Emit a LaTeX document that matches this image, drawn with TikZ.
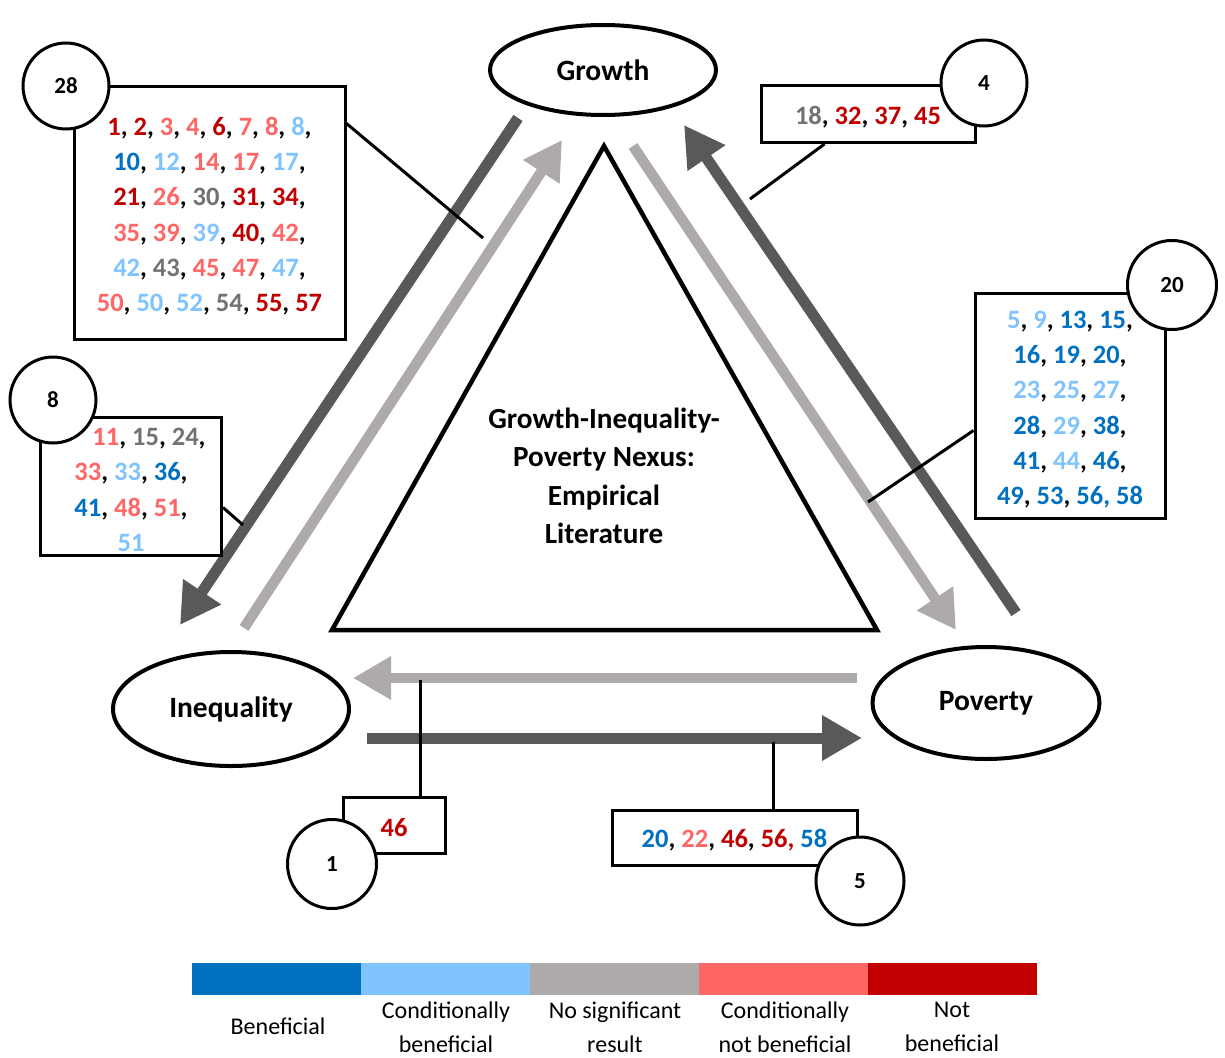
\documentclass[tikz,border=0pt]{standalone}
\usepackage{fontspec}
\setmainfont{Carlito}
\usetikzlibrary{arrows.meta,shapes.geometric}
\definecolor{cDB}{HTML}{0070C0}
\definecolor{cLB}{HTML}{7FC4FF}
\definecolor{cGR}{HTML}{767171}
\definecolor{cLR}{HTML}{FF6666}
\definecolor{cDR}{HTML}{C00000}
\definecolor{legGR}{HTML}{AEAAAA}
\definecolor{arrD}{HTML}{595959}
\definecolor{arrL}{HTML}{AEAAAA}
\newcommand{\nDB}[1]{\textcolor{cDB}{#1}}
\newcommand{\nLB}[1]{\textcolor{cLB}{#1}}
\newcommand{\nGR}[1]{\textcolor{cGR}{#1}}
\newcommand{\nLR}[1]{\textcolor{cLR}{#1}}
\newcommand{\nDR}[1]{\textcolor{cDR}{#1}}
\begin{document}
\begin{tikzpicture}[x=1pt,y=-1pt,
  oval/.style={ellipse, draw, line width=4pt, fill=white, inner sep=0pt,
    font=\fontsize{29.5}{34}\selectfont\bfseries},
  numbox/.style={draw, line width=3pt, fill=white, inner sep=0pt},
  numtext/.style={inner sep=0pt, align=center,
    font=\fontsize{26.5}{35.3}\selectfont\bfseries},
  badge/.style={circle, draw, line width=3pt, fill=white, inner sep=0pt,
    minimum size=86pt, font=\fontsize{23}{28}\selectfont\bfseries},
  darkarrow/.style={draw=arrD, line width=11pt, -{Triangle[length=40pt,width=43pt]}},
  lightarrow/.style={draw=arrL, line width=10.5pt, -{Triangle[length=38pt,width=41pt]}},
  leader/.style={line width=3pt},
  legtext/.style={font=\fontsize{24}{34}\selectfont, align=center}
]
\useasboundingbox (0,0) rectangle (1225,1057);

% main ovals
\node[oval, minimum width=226pt, minimum height=90pt] (growth) at (603,70) {Growth};
\node[oval, minimum width=236pt, minimum height=114pt] (ineq) at (231,709) {Inequality};
\node[oval, minimum width=227pt, minimum height=112pt] (pov) at (986,703) {Poverty};

% triangle
\coordinate (tA) at (604,146);
\coordinate (tB) at (332,630);
\coordinate (tC) at (877,630);
\draw[line width=4.5pt, line join=miter] (tA) -- (tB) -- (tC) -- cycle;
\node[align=center, font=\fontsize{29.2}{38.5}\selectfont\bfseries] (nexus) at (604,476)
  {Growth-Inequality-\\Poverty Nexus:\\Empirical\\Literature};

% arrow end points
\coordinate (a1s) at (518,118); \coordinate (a1e) at (180,625);
\coordinate (a2s) at (244,628); \coordinate (a2e) at (562,140);
\coordinate (a3s) at (633,146); \coordinate (a3e) at (956,630);
\coordinate (a4s) at (1016,613); \coordinate (a4e) at (684,125);
\coordinate (a5s) at (857,678); \coordinate (a5e) at (353,678);
\coordinate (a6s) at (367,738); \coordinate (a6e) at (862,738);

\draw[darkarrow] (a1s) -- (a1e);
\draw[lightarrow] (a2s) -- (a2e);
\draw[lightarrow] (a3s) -- (a3e);
\draw[darkarrow] (a4s) -- (a4e);
\draw[lightarrow] (a5s) -- (a5e);
\draw[darkarrow] (a6s) -- (a6e);

% boxes
\node[numbox, minimum width=271pt, minimum height=253pt] (b28) at (209.5,212.5) {};
\node[numtext] (t28) at ([yshift=-3.5pt]b28.center)
 {\nDR{1}, \nDR{2}, \nLR{3}, \nLR{4}, \nDR{6}, \nLR{7}, \nLR{8}, \nLB{8},\\
  \nDB{10}, \nLB{12}, \nLR{14}, \nLR{17}, \nLB{17},\\
  \nDR{21}, \nLR{26}, \nGR{30}, \nDR{31}, \nDR{34},\\
  \nLR{35}, \nLR{39}, \nLB{39}, \nDR{40}, \nLR{42},\\
  \nLB{42}, \nGR{43}, \nLR{45}, \nLR{47}, \nLB{47},\\
  \nLR{50}, \nLB{50}, \nLB{52}, \nGR{54}, \nDR{55}, \nDR{57}};
\node[numbox, minimum width=181pt, minimum height=138pt] (b8) at (131,486) {};
\node[numtext] (t8) at ([yshift=-4pt]b8.center)
 {\hspace*{36pt}\nLR{11}, \nGR{15}, \nGR{24},\\
  \nLR{33}, \nLB{33}, \nDB{36},\\
  \nDB{41}, \nLR{48}, \nLR{51},\\
  \nLB{51}};
\node[numbox, minimum width=214pt, minimum height=57pt] (b4) at (868,114) {};
\node[numtext] (t4) at ([yshift=-3.5pt]b4.center)
 {\nGR{18}, \nDR{32}, \nDR{37}, \nDR{45}};
\node[numbox, minimum width=190pt, minimum height=225pt] (b20) at (1070,405.5) {};
\node[numtext] (t20) at ([yshift=-4pt]b20.center)
 {\nLB{5}, \nLB{9}, \nDB{13}, \nDB{15},\\
  \nDB{16}, \nDB{19}, \nDB{20},\\
  \nLB{23}, \nLB{25}, \nLB{27},\\
  \nDB{28}, \nLB{29}, \nDB{38},\\
  \nDB{41}, \nLB{44}, \nDB{46},\\
  \nDB{49}, \nDB{53}, \nDB{56\textcolor{cDB}{,} 58}};
\node[numbox, minimum width=102pt, minimum height=56pt] (b1) at (394,825) {};
\node[numtext] (t1) at ([yshift=-2.5pt]b1.center) {\nDR{46}};
\node[numbox, minimum width=245pt, minimum height=55pt] (b5) at (734.5,837.5) {};
\node[numtext] (t5) at ([yshift=-3pt]b5.center)
 {\nDB{20}, \nLR{22}, \nDR{46}, \nDR{56\textcolor{cDR}{,}} \nDB{58}};

% leaders
\coordinate (l28) at (483,238);
\coordinate (l8) at (243,525);
\coordinate (l4) at (750,199);
\coordinate (l20) at (868,502);
\coordinate (l1) at (420,680);
\coordinate (l5) at (773,742);
\draw[leader] ([yshift=-39pt]b28.north east) -- (l28);
\draw[leader] ([yshift=-92pt]b8.north east) -- (l8);
\draw[leader] ([xshift=65pt]b4.south west) -- (l4);
\draw[leader] ([yshift=-139pt]b20.north west) -- (l20);
\draw[leader] (l1) -- (l1 |- b1.north);
\draw[leader] (l5) -- (l5 |- b5.north);

% count badges
\node[badge] (c28) at (66,86) {28};
\node[badge] (c8) at (53,400) {8};
\node[badge] (c4) at (984,83) {4};
\node[badge, minimum size=89pt] (c20) at (1172,285) {20};
\node[badge, minimum size=89pt] (c1) at (332,864) {1};
\node[badge, minimum size=88pt] (c5) at (860,881) {5};

% legend
\fill[cDB] (192,963) rectangle (361,995);
\fill[cLB] (361,963) rectangle (530,995);
\fill[legGR] (530,963) rectangle (699,995);
\fill[cLR] (699,963) rectangle (868,995);
\fill[cDR] (868,963) rectangle (1037,995);
\node[legtext] (g1) at (278,1026) {Beneficial};
\node[legtext] (g2) at (446,1027) {Conditionally\\beneficial};
\node[legtext] (g3) at (615,1027) {No significant\\result};
\node[legtext] (g4) at (785,1027) {Conditionally\\not beneficial};
\node[legtext] (g5) at (952,1027) {Not\\beneficial};
\end{tikzpicture}
\end{document}
